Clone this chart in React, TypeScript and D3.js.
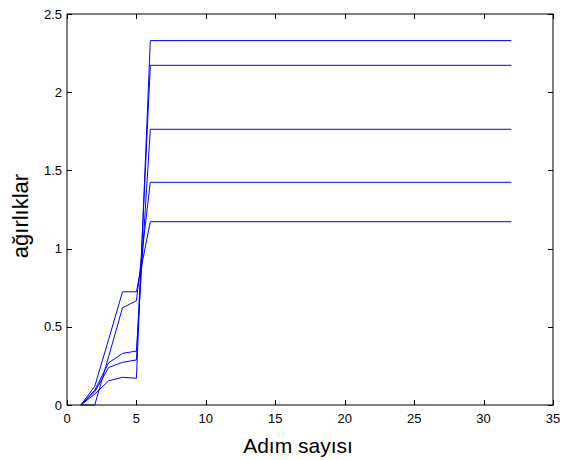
import React, { useEffect, useRef } from "react";
import * as d3 from "d3";

// step numbers where the weights were sampled
const steps = [1, 2, 3, 4, 5, 6, 32];

// weight trajectories (one per line)
const w1 = [0, 0.12, 0.42, 0.724, 0.724, 1.172, 1.172];
const w2 = [0, 0, 0.31, 0.622, 0.667, 1.424, 1.424];
const w3 = [0, 0.095, 0.27, 0.33, 0.345, 1.763, 1.763];
const w4 = [0, 0.085, 0.24, 0.273, 0.288, 2.172, 2.172];
const w5 = [0, 0.07, 0.155, 0.177, 0.171, 2.33, 2.33];

const xTicks = [0, 5, 10, 15, 20, 25, 30, 35];
const yTicks = [0, 0.5, 1, 1.5, 2, 2.5];

export default function App() {
  const svgRef = useRef<SVGSVGElement>(null);

  useEffect(() => {
    const svg = d3.select(svgRef.current);
    svg.selectAll("*").remove();

    const width = 571, height = 460;
    const left = 67, right = 553, top = 14, bottom = 405;
    const font = "Arial, 'Liberation Sans', sans-serif";

    const x = d3.scaleLinear().domain([0, 35]).range([left, right]);
    const y = d3.scaleLinear().domain([0, 2.5]).range([bottom, top]);

    svg.attr("width", width).attr("height", height);
    svg.append("rect").attr("width", width).attr("height", height).attr("fill", "#fff");

    // lines
    const line = d3.line<number>()
      .x((_, i) => x(steps[i]))
      .y(d => y(d));

    svg.selectAll("path.w")
      .data([w1, w2, w3, w4, w5])
      .enter()
      .append("path")
      .attr("class", "w")
      .attr("d", d => line(d))
      .attr("fill", "none")
      .attr("stroke", "#0000ff")
      .attr("stroke-width", 1);

    // box
    svg.append("rect")
      .attr("x", left).attr("y", top)
      .attr("width", right - left).attr("height", bottom - top)
      .attr("fill", "none")
      .attr("stroke", "#000")
      .attr("stroke-width", 1);

    const tl = 5;
    // x ticks, inward on bottom and top
    xTicks.forEach(t => {
      const px = Math.round(x(t)) + 0.5;
      svg.append("line").attr("x1", px).attr("x2", px)
        .attr("y1", bottom).attr("y2", bottom - tl).attr("stroke", "#000");
      svg.append("line").attr("x1", px).attr("x2", px)
        .attr("y1", top).attr("y2", top + tl).attr("stroke", "#000");
      svg.append("text")
        .attr("x", x(t)).attr("y", 423)
        .attr("text-anchor", "middle")
        .style("font-family", font)
        .style("font-size", "13px")
        .text(t);
    });

    // y ticks, inward on left and right
    yTicks.forEach(t => {
      const py = Math.round(y(t)) + 0.5;
      svg.append("line").attr("x1", left).attr("x2", left + tl)
        .attr("y1", py).attr("y2", py).attr("stroke", "#000");
      svg.append("line").attr("x1", right).attr("x2", right - tl)
        .attr("y1", py).attr("y2", py).attr("stroke", "#000");
      svg.append("text")
        .attr("x", left - 5).attr("y", y(t))
        .attr("dy", "0.36em")
        .attr("text-anchor", "end")
        .style("font-family", font)
        .style("font-size", "13px")
        .text(t);
    });

    // axis labels
    svg.append("text")
      .attr("x", 298).attr("y", 453)
      .attr("text-anchor", "middle")
      .style("font-family", font)
      .style("font-size", "21px")
      .text("Adım sayısı");

    svg.append("text")
      .attr("transform", "translate(28,216) rotate(-90)")
      .attr("text-anchor", "middle")
      .style("font-family", font)
      .style("font-size", "22px")
      .text("ağırlıklar");
  }, []);

  return (
    <svg
      ref={svgRef}
      style={{ position: "absolute", left: 0, top: 0, display: "block" }}
    ></svg>
  );
}
